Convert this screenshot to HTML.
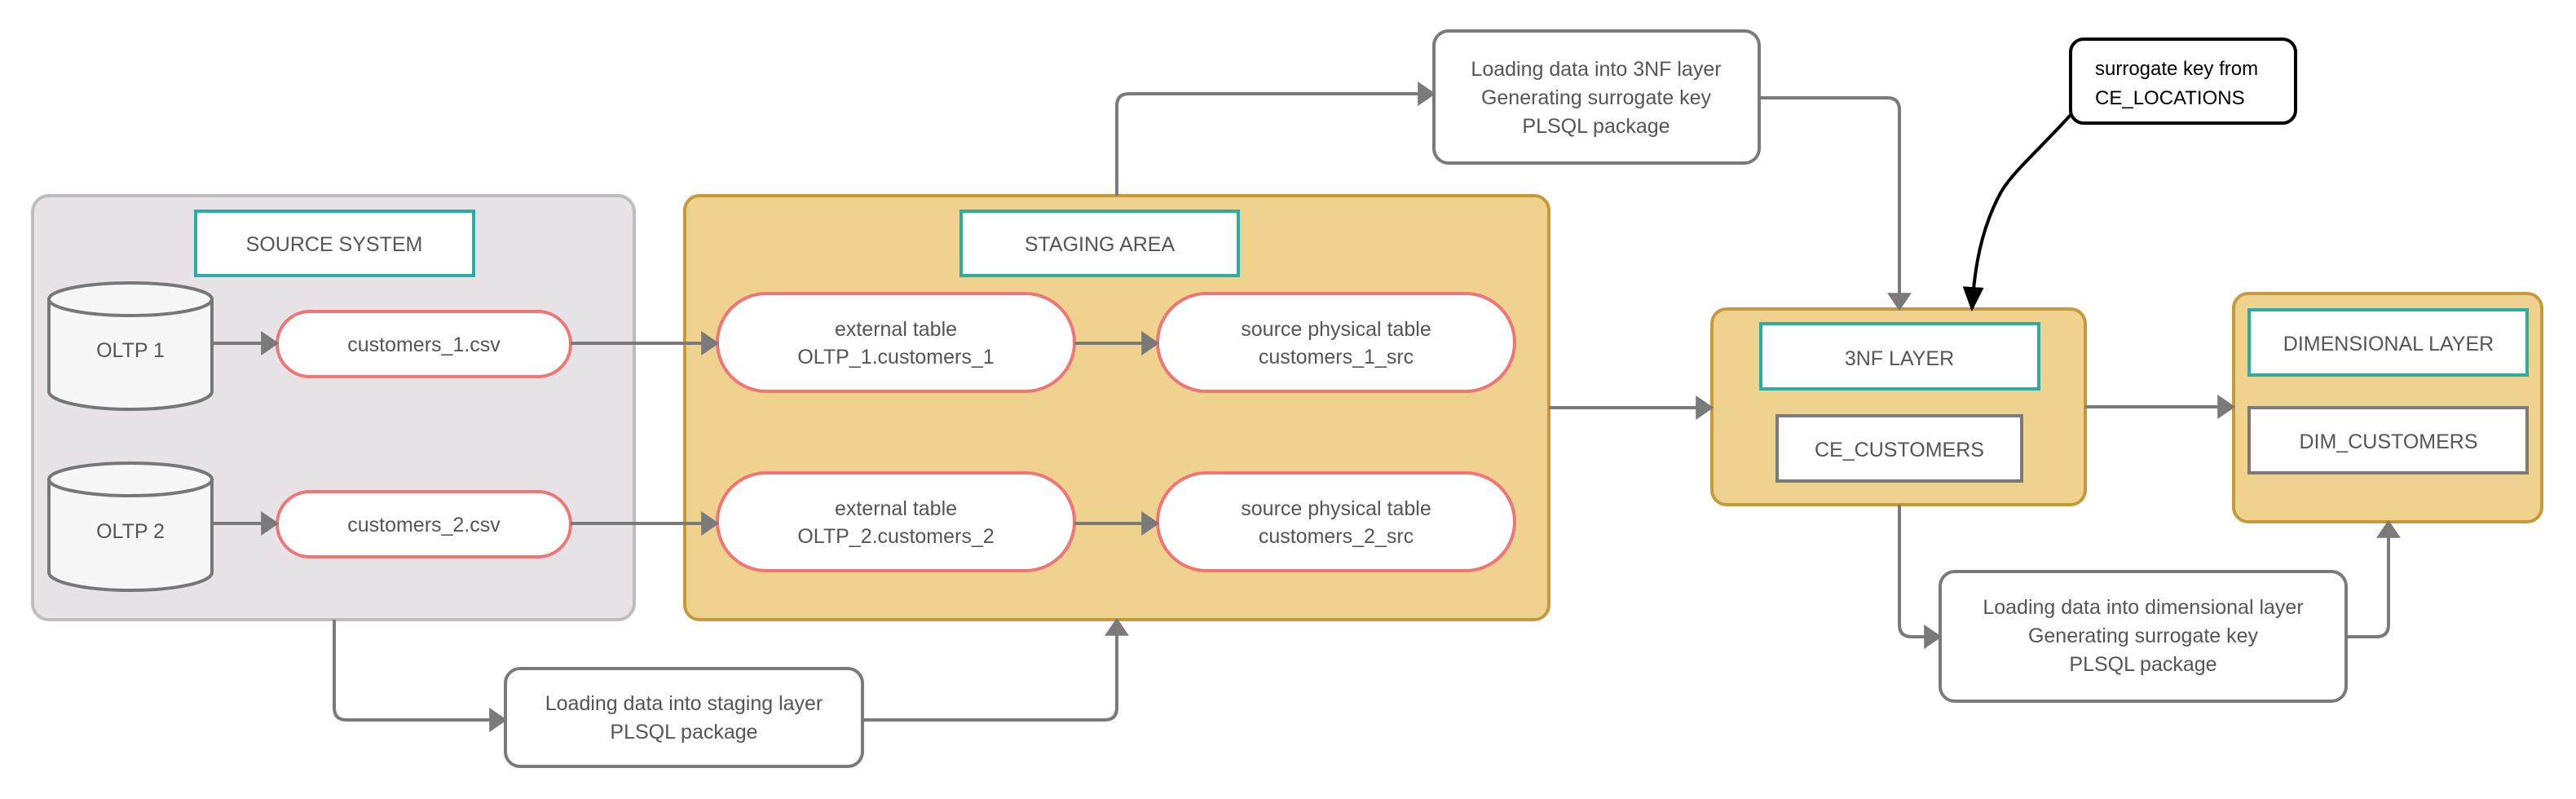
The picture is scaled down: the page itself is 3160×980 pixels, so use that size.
<!DOCTYPE html>
<html><head><meta charset="utf-8"><style>
html,body{margin:0;padding:0;background:#fff;}
svg{display:block;}
text{font-family:"Liberation Sans",sans-serif;fill:#555;font-size:25px;text-anchor:middle;}
</style></head><body>
<svg width="3160" height="980" viewBox="0 0 3160 980" xmlns="http://www.w3.org/2000/svg">
<defs>
<marker id="a" markerWidth="8" markerHeight="8" refX="6" refY="4" orient="auto" markerUnits="userSpaceOnUse" viewBox="0 0 8 8"><path d="M0,0 L8,4 L0,8 z" fill="#7a7a7a"/></marker>
<marker id="ag" viewBox="0 0 10 10" refX="9" refY="5" markerWidth="22" markerHeight="30" orient="auto" markerUnits="userSpaceOnUse" preserveAspectRatio="none"><path d="M0,0 L10,5 L0,10 z" fill="#7a7a7a"/></marker>
<marker id="ab" viewBox="0 0 10 10" refX="9" refY="5" markerWidth="30" markerHeight="26" orient="auto" markerUnits="userSpaceOnUse" preserveAspectRatio="none"><path d="M0,0 L10,5 L0,10 z" fill="#000"/></marker>
</defs>

<!-- Source system -->
<rect x="40" y="240" width="738" height="520" rx="20" fill="#e8e3e7" stroke="#bdbdbd" stroke-width="4"/>
<rect x="240" y="259" width="341" height="79" fill="#fff" stroke="#2aaca8" stroke-width="4"/>
<text x="410" y="308">SOURCE SYSTEM</text>

<g stroke="#777" stroke-width="4" fill="#f7f7f7">
<path d="M60,367 L60,480 A100,22 0 0 0 260,480 L260,367"/>
<ellipse cx="160" cy="367" rx="100" ry="20"/>
<path d="M60,588 L60,702 A100,22 0 0 0 260,702 L260,588"/>
<ellipse cx="160" cy="588" rx="100" ry="20"/>
</g>
<text x="160" y="438">OLTP 1</text>
<text x="160" y="660">OLTP 2</text>

<g fill="#fff" stroke="#f07575" stroke-width="4">
<rect x="340" y="382" width="360" height="80" rx="40"/>
<rect x="340" y="603" width="360" height="80" rx="40"/>
</g>
<text x="520" y="431">customers_1.csv</text>
<text x="520" y="652">customers_2.csv</text>

<!-- Staging -->
<rect x="840" y="240" width="1060" height="520" rx="18" fill="#f0d28f" stroke="#c49a3c" stroke-width="4"/>
<rect x="1179" y="259" width="340" height="79" fill="#fff" stroke="#2aaca8" stroke-width="4"/>
<text x="1349" y="308">STAGING AREA</text>
<g fill="#fff" stroke="#f07575" stroke-width="4">
<rect x="880" y="360" width="438" height="120" rx="60"/>
<rect x="1420" y="360" width="438" height="120" rx="60"/>
<rect x="880" y="580" width="438" height="120" rx="60"/>
<rect x="1420" y="580" width="438" height="120" rx="60"/>
</g>
<text x="1099" y="412">external table</text><text x="1099" y="446">OLTP_1.customers_1</text>
<text x="1639" y="412">source physical table</text><text x="1639" y="446">customers_1_src</text>
<text x="1099" y="632">external table</text><text x="1099" y="666">OLTP_2.customers_2</text>
<text x="1639" y="632">source physical table</text><text x="1639" y="666">customers_2_src</text>

<!-- 3NF -->
<rect x="2100" y="379" width="458" height="240" rx="18" fill="#f0d28f" stroke="#c49a3c" stroke-width="4"/>
<rect x="2160" y="397" width="341" height="80" fill="#fff" stroke="#2aaca8" stroke-width="4"/>
<text x="2330" y="448">3NF LAYER</text>
<rect x="2180" y="510" width="300" height="80" fill="#fff" stroke="#7a7a7a" stroke-width="4"/>
<text x="2330" y="560">CE_CUSTOMERS</text>

<!-- DIM -->
<rect x="2740" y="360" width="378" height="280" rx="18" fill="#f0d28f" stroke="#c49a3c" stroke-width="4"/>
<rect x="2759" y="380" width="341" height="80" fill="#fff" stroke="#2aaca8" stroke-width="4"/>
<text x="2930" y="430">DIMENSIONAL LAYER</text>
<rect x="2759" y="500" width="341" height="80" fill="#fff" stroke="#7a7a7a" stroke-width="4"/>
<text x="2930" y="550">DIM_CUSTOMERS</text>

<!-- Process boxes -->
<g fill="#fff" stroke="#7a7a7a" stroke-width="4">
<rect x="1759" y="38" width="399" height="162" rx="18"/>
<rect x="620" y="820" width="438" height="120" rx="18"/>
<rect x="2380" y="701" width="498" height="159" rx="18"/>
</g>
<text x="1958" y="93">Loading data into 3NF layer</text>
<text x="1958" y="128">Generating surrogate key</text>
<text x="1958" y="163">PLSQL package</text>
<text x="839" y="871">Loading data into staging layer</text>
<text x="839" y="906">PLSQL package</text>
<text x="2629" y="753">Loading data into dimensional layer</text>
<text x="2629" y="788">Generating surrogate key</text>
<text x="2629" y="823">PLSQL package</text>

<!-- Callout -->
<rect x="2540" y="48" width="276" height="103" rx="16" fill="#fff" stroke="#000" stroke-width="4"/>
<text x="2570" y="92" style="text-anchor:start;fill:#000;font-size:24px">surrogate key from</text>
<text x="2570" y="128" style="text-anchor:start;fill:#000;font-size:24px">CE_LOCATIONS</text>
<path d="M2540,141 C2500,185 2470,210 2455,235 C2430,280 2422,330 2419,379" fill="none" stroke="#000" stroke-width="4" marker-end="url(#ab)"/>

<!-- Connectors -->
<g fill="none" stroke="#7a7a7a" stroke-width="4" marker-end="url(#ag)">
<path d="M260,421 L340,421"/>
<path d="M260,642 L340,642"/>
<path d="M700,421 L880,421"/>
<path d="M700,642 L880,642"/>
<path d="M1318,421 L1420,421"/>
<path d="M1318,642 L1420,642"/>
<path d="M1900,500 L2100,500"/>
<path d="M2558,499 L2740,499"/>
<path d="M1370,240 L1370,130 Q1370,115 1385,115 L1759,115"/>
<path d="M2158,120 L2315,120 Q2330,120 2330,135 L2330,379"/>
<path d="M410,760 L410,868 Q410,883 425,883 L620,883"/>
<path d="M1058,883 L1355,883 Q1370,883 1370,868 L1370,760"/>
<path d="M2330,619 L2330,766 Q2330,781 2345,781 L2380,781"/>
<path d="M2878,781 L2915,781 Q2930,781 2930,766 L2930,640"/>
</g>
</svg>
</body></html>
